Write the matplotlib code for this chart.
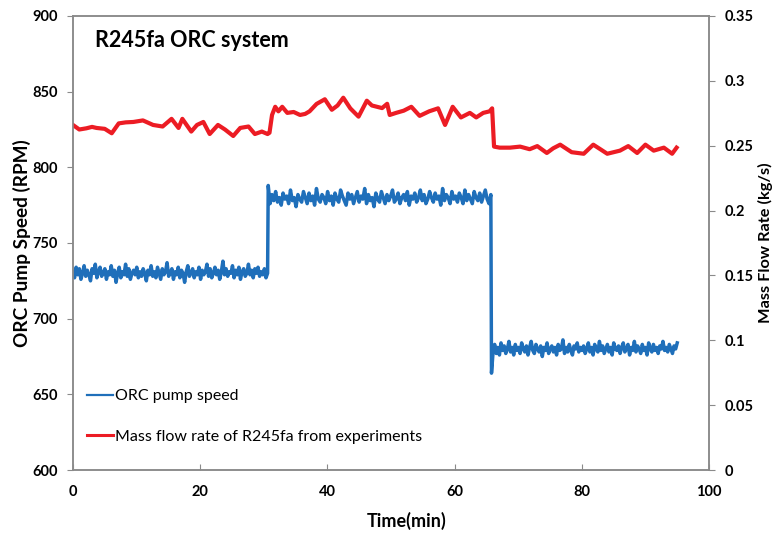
import matplotlib
matplotlib.use("Agg")
import matplotlib.pyplot as plt
import numpy as np

# ORC pump speed (RPM), three operating steps, sampled evenly within each step
pump_step_edges = [0.0, 30.7, 65.8, 95.1]
pump_step1 = [731, 727, 734, 729, 733, 726, 730, 735, 728, 732, 729, 725, 733, 730, 736, 727, 731, 734, 728, 730,
              733, 726, 731, 729, 735, 728, 732, 724, 730, 734, 727, 731, 729, 736, 728, 733, 726, 730, 732, 729,
              734, 727, 731, 728, 733, 730, 725, 732, 729, 735, 728, 731, 727, 734, 730, 726, 733, 729, 731, 737,
              728, 730, 733, 726, 731, 729, 734, 727, 732, 730, 724, 731, 735, 728, 730, 733, 727, 731, 729, 734,
              726, 732, 729, 731, 736, 728, 733, 727, 730, 734, 729, 732, 726, 731, 738, 729, 733, 728, 731, 730,
              735, 727, 732, 729, 734, 726, 731, 733, 728, 730, 736, 729, 732, 727, 733, 730, 734, 728, 731, 729,
              733, 727, 730]
pump_step2 = [788, 776, 782, 778, 784, 777, 780, 775, 783, 779, 781, 776, 785, 778, 780, 774, 782, 779, 777, 784,
              780, 776, 783, 778, 781, 775, 786, 779, 777, 782, 780, 776, 784, 778, 781, 775, 783, 779, 777, 785,
              781, 778, 775, 783, 779, 782, 776, 780, 784, 777, 781, 779, 786, 776, 782, 778, 780, 774, 783, 779,
              777, 784, 780, 776, 782, 778, 781, 785, 777, 779, 783, 776, 780, 782, 778, 784, 775, 781, 779, 783,
              777, 780, 785, 778, 782, 776, 779, 784, 780, 777, 783, 779, 781, 775, 786, 778, 782, 780, 776, 784,
              779, 781, 777, 783, 780, 776, 785, 778, 782, 779, 776, 784, 780, 778, 783, 777, 781, 785, 779, 776,
              782]
pump_step3 = [664, 678, 683, 677, 681, 676, 684, 679, 682, 677, 680, 685, 678, 681, 676, 683, 679, 681, 677, 684,
              680, 678, 682, 676, 681, 685, 679, 677, 683, 680, 678, 682, 675, 681, 679, 684, 677, 680, 682, 678,
              681, 676, 683, 679, 680, 686, 677, 681, 678, 683, 679, 676, 682, 680, 684, 678, 681, 679, 682, 677,
              680, 684, 678, 681, 676, 683, 680, 678, 685, 679, 682, 677, 680, 683, 678, 681, 676, 684, 680, 679,
              682, 677, 681, 684, 678, 680, 683, 676, 681, 679, 685, 678, 682, 680, 677, 683, 679, 681, 676, 684,
              680, 678, 683, 679, 681, 677, 682, 680, 685, 679, 681, 678, 683, 680, 677, 682, 680, 684]

# Mass flow rate of R245fa (kg/s)
flow_time = [0, 1, 2.1, 3, 3.7, 5, 6.1, 7.2, 8.3, 9.5, 11, 12.6, 14.1, 15.5, 16.6,
             17.2, 18.6, 19.5, 20.5, 21.5, 22.8, 23.9, 25.2, 26.3, 27.6, 28.6, 29.7,
             30.6, 30.9, 31.3, 31.8, 32.3, 32.9, 33.7, 34.7, 35.7, 36.5, 37.2, 38.3,
             39.6, 40.7, 41.6, 42.5, 43.6, 44.9, 46.2, 47, 47.8, 48.6, 49.4, 49.8,
             50.8, 52, 53.2, 54.5, 56, 57.4, 58.5, 59.7, 61, 62.4, 63.4, 64.5, 65.5,
             65.9, 66.2, 67.1, 68.7, 70.3, 71.8, 73, 74.5, 75.5, 76.6, 78.4, 80.3,
             81.8, 83, 84, 86, 87.3, 88.7, 90, 91.3, 92.9, 94.2, 94.9]
flow_rate = [0.266, 0.2625, 0.2634, 0.2645, 0.2637, 0.263, 0.2596, 0.2672, 0.268,
             0.2683, 0.2695, 0.266, 0.2648, 0.2707, 0.2637, 0.2707, 0.2609, 0.266,
             0.2683, 0.259, 0.266, 0.2625, 0.2575, 0.2637, 0.2648, 0.259, 0.2609,
             0.259, 0.26, 0.2737, 0.28, 0.2765, 0.28, 0.2753, 0.276, 0.2737, 0.2745,
             0.2765, 0.2822, 0.2858, 0.2777, 0.281, 0.287, 0.2788, 0.2724, 0.2847,
             0.281, 0.28, 0.279, 0.2823, 0.2737, 0.2753, 0.277, 0.28, 0.273, 0.2765,
             0.2788, 0.266, 0.28, 0.2718, 0.2753, 0.2718, 0.2753, 0.2765, 0.2788,
             0.2493, 0.2485, 0.2485, 0.2493, 0.2473, 0.2497, 0.2444, 0.248, 0.2508,
             0.245, 0.2438, 0.2508, 0.247, 0.2438, 0.2462, 0.2497, 0.2444, 0.2508,
             0.2462, 0.2485, 0.2438, 0.2485]

left_ticks = [600, 650, 700, 750, 800, 850, 900]
right_ticks = [0, 0.05, 0.1, 0.15, 0.2, 0.25, 0.3, 0.35]
right_tick_labels = ["0", "0.05", "0.1", "0.15", "0.2", "0.25", "0.3", "0.35"]
x_ticks = [0, 20, 40, 60, 80, 100]

BLUE = "#1f6fba"
RED = "#ec1c24"
SPINE = "#8a8a8a"

plt.rcParams['font.family'] = ['Lato', 'DejaVu Sans']

# build pump time axis: evenly spaced samples inside each step
pump_steps = [pump_step1, pump_step2, pump_step3]
pump_time = []
pump_speed = []
for i, vals in enumerate(pump_steps):
    t0, t1 = pump_step_edges[i], pump_step_edges[i + 1] - 0.1
    pump_time.extend(np.linspace(t0, t1, len(vals)))
    pump_speed.extend(vals)

fig = plt.figure(figsize=(7.76, 5.40), dpi=100)
ax = fig.add_axes([0.094, 0.1296, 0.8197, 0.8408])
ax2 = ax.twinx()

l1, = ax.plot(pump_time, pump_speed, color=BLUE, lw=2.5, label="ORC pump speed")
l2, = ax2.plot(flow_time, flow_rate, color=RED, lw=3.0, label="Mass flow rate of R245fa from experiments")

ax.set_xlim(0, 100)
ax.set_ylim(600, 900)
ax2.set_ylim(0, 0.35)
ax.set_xticks(x_ticks)
ax.set_yticks(left_ticks)
ax2.set_yticks(right_ticks)
ax2.set_yticklabels(right_tick_labels)

for a in (ax, ax2):
    for s in a.spines.values():
        s.set_color(SPINE)
        s.set_linewidth(1.1)

ax.tick_params(axis='x', direction='in', length=4, color=SPINE, labelsize=10.5, pad=11)
ax.tick_params(axis='y', direction='out', length=4, color=SPINE, labelsize=10.5, pad=7)
ax2.tick_params(axis='y', direction='out', length=4, color=SPINE, labelsize=10.5, pad=7)
for lab in ax.get_xticklabels() + ax.get_yticklabels() + ax2.get_yticklabels():
    lab.set_fontweight('bold')

ax.set_xlabel("Time(min)", fontsize=13, fontweight='bold', labelpad=9)
ax.xaxis.label.set_x(0.524)
ax.set_ylabel("ORC Pump Speed (RPM)", fontsize=13.7, fontweight='bold', labelpad=1)
ax2.set_ylabel("Mass Flow Rate (kg/s)", fontsize=11.8, fontweight='bold', labelpad=3)

ax.text(0.035, 0.945, "R245fa ORC system", transform=ax.transAxes, fontsize=15.5,
        fontweight='bold', va='center', ha='left')

leg = ax2.legend([l1, l2], [l1.get_label(), l2.get_label()], loc='upper left',
                 bbox_to_anchor=(0.0, 0.21), frameon=False, fontsize=11.5,
                 handlelength=1.6, handletextpad=0.15, labelspacing=1.65)
leg.get_lines()[0].set_linewidth(1.6)
leg.get_lines()[1].set_linewidth(2.2)

fig.savefig("out.png", dpi=100)
